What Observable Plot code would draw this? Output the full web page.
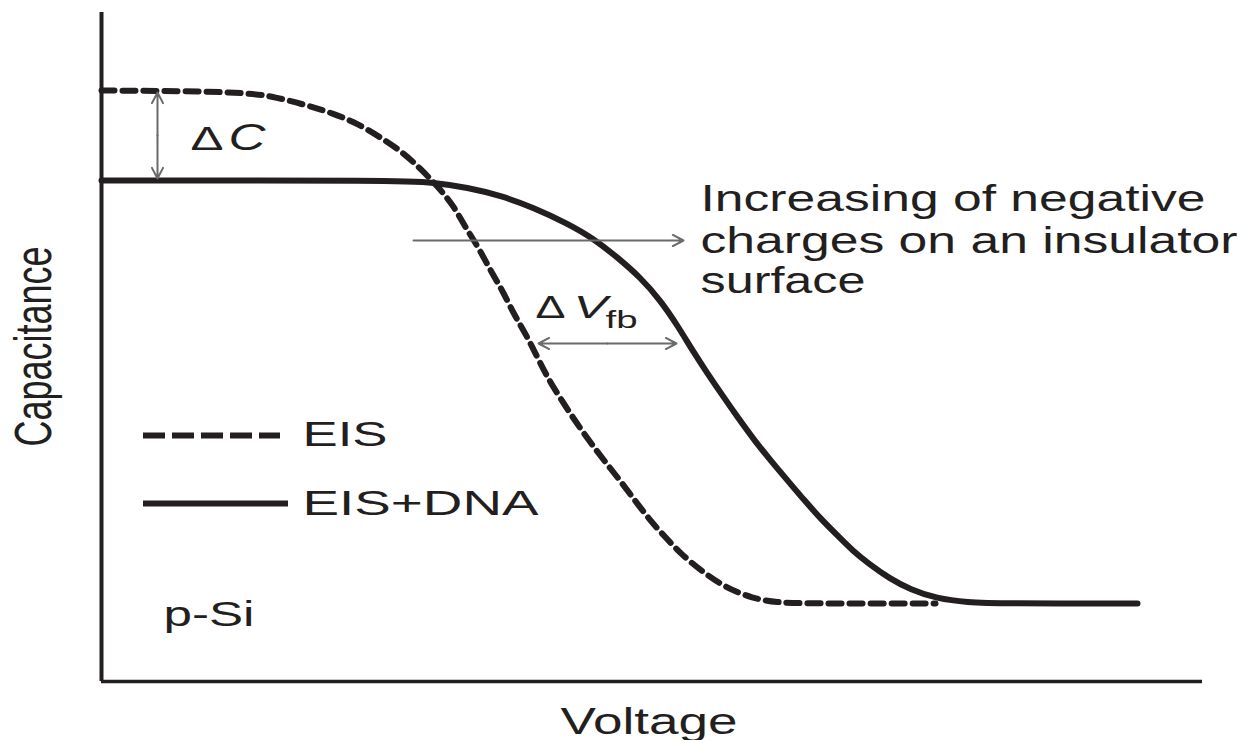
<!DOCTYPE html>
<html>
<head>
<meta charset="utf-8">
<script src="https://cdn.jsdelivr.net/npm/d3@7"></script>
<script src="https://cdn.jsdelivr.net/npm/@observablehq/plot@0.6"></script>
<style>
  html, body { margin: 0; padding: 0; background: #ffffff; }
  #chart { width: 1248px; height: 740px; overflow: hidden; }
</style>
</head>
<body>
<div id="chart"></div>
<script>
// ---- Data (arbitrary units: voltage 0–11, capacitance 0–6.7) ----
const eisVoltage = [0, 1.42, 1.76, 2.06, 2.32, 2.56, 2.79, 2.99, 3.19, 3.37, 3.52, 3.64, 3.77, 3.89, 4.01, 4.12, 4.24, 4.36, 4.46, 4.59, 4.72, 4.86, 5.01, 5.17, 5.32, 5.47, 5.64, 5.81, 6.02, 6.24, 6.51, 6.76, 7.01, 8.34];
const eisCapacitance = [5.91, 5.90, 5.84, 5.76, 5.68, 5.58, 5.44, 5.31, 5.13, 4.94, 4.76, 4.54, 4.34, 4.11, 3.91, 3.68, 3.48, 3.24, 3.04, 2.83, 2.63, 2.43, 2.23, 2.03, 1.83, 1.63, 1.44, 1.26, 1.09, 0.94, 0.83, 0.79, 0.78, 0.78];

const dnaVoltage = [0, 2.99, 3.32, 3.66, 3.99, 4.32, 4.66, 4.92, 5.16, 5.39, 5.59, 5.76, 5.91, 6.06, 6.21, 6.37, 6.53, 6.70, 6.87, 7.03, 7.19, 7.36, 7.51, 7.67, 7.88, 8.09, 8.35, 8.66, 8.99, 10.36];
const dnaCapacitance = [5.01, 5.01, 4.99, 4.94, 4.86, 4.74, 4.58, 4.43, 4.24, 4.04, 3.81, 3.56, 3.31, 3.08, 2.86, 2.63, 2.41, 2.20, 2.00, 1.81, 1.63, 1.46, 1.31, 1.18, 1.03, 0.92, 0.83, 0.79, 0.78, 0.78];

const seriesLabels = ["EIS", "EIS+DNA"];
const xLabel = "Voltage";
const yLabel = "Capacitance";
const noteLines = ["Increasing of negative", "charges on an insulator", "surface"];
const substrateLabel = "p-Si";
const deltaSymbol = "Δ";
const deltaCVar = "C";
const deltaVVar = "V";
const deltaVSub = "fb";

// ---- Build tables for the library ----
const eis = eisVoltage.map((v, i) => ({v, c: eisCapacitance[i]}));
const dna = dnaVoltage.map((v, i) => ({v, c: dnaCapacitance[i]}));

// ---- Layout of annotations (data units) ----
const ink = "#231f20";
const arrowInk = "#6a6a6a";
const xDomain = [0, 11.01];
const yDomain = [0, 6.69];

const labels = [
  {t: deltaSymbol, x: 0.89, y: 5.32, size: 34, w: 33},
  {t: deltaCVar, x: 1.27, y: 5.32, size: 36, w: 37, italic: true},
  {t: deltaSymbol, x: 4.34, y: 3.64, size: 31, w: 30},
  {t: deltaVVar, x: 4.72, y: 3.64, size: 31, w: 34, italic: true},
  {t: deltaVSub, x: 5.04, y: 3.54, size: 23, w: 32},
  {t: noteLines[0], x: 5.99, y: 4.71, size: 37, w: 505},
  {t: noteLines[1], x: 5.99, y: 4.29, size: 37, w: 537},
  {t: noteLines[2], x: 5.99, y: 3.89, size: 37, w: 165},
  {t: seriesLabels[0], x: 2.01, y: 2.36, size: 35, w: 85},
  {t: seriesLabels[1], x: 2.01, y: 1.67, size: 35, w: 236},
  {t: substrateLabel, x: 0.62, y: 0.56, size: 35, w: 91},
  {t: xLabel, x: 4.59, y: -0.52, size: 36, w: 177}
];

const arrows = [
  // ΔC (double headed, drawn from the middle outward)
  {x1: 0.56, y1: 5.46, x2: 0.56, y2: 5.89},
  {x1: 0.56, y1: 5.46, x2: 0.56, y2: 5.03},
  // shift arrow
  {x1: 3.12, y1: 4.41, x2: 5.82, y2: 4.41},
  // ΔVfb (double headed)
  {x1: 5.06, y1: 3.38, x2: 4.37, y2: 3.38},
  {x1: 5.06, y1: 3.38, x2: 5.75, y2: 3.38}
];

const legendRows = [
  {x1: 0.42, x2: 1.79, y: 2.46, dash: "22,7"},
  {x1: 0.42, x2: 1.87, y: 1.78, dash: null}
];

const marks = [
  Plot.ruleX([0], {y1: yDomain[0], y2: yDomain[1], stroke: ink, strokeWidth: 4}),
  Plot.ruleY([0], {x1: xDomain[0], x2: xDomain[1], stroke: ink, strokeWidth: 3.5}),
  Plot.line(eis, {x: "v", y: "c", curve: "basis", stroke: ink, strokeWidth: 6, strokeDasharray: "13,8"}),
  Plot.line(dna, {x: "v", y: "c", curve: "basis", stroke: ink, strokeWidth: 6}),
  Plot.arrow(arrows, {x1: "x1", y1: "y1", x2: "x2", y2: "y2", stroke: arrowInk, strokeWidth: 2, headLength: 9, headAngle: 55}),
  ...legendRows.map(r => Plot.ruleY([r.y], {x1: r.x1, x2: r.x2, stroke: ink, strokeWidth: 6, strokeDasharray: r.dash})),
  ...labels.map((d, i) => Plot.text([d], {
    x: "x", y: "y", text: "t", fontSize: d.size,
    fontStyle: d.italic ? "italic" : "normal",
    textAnchor: "start", lineAnchor: "bottom", fill: ink,
    ariaDescription: "label-" + i
  })),
  Plot.text([{t: yLabel, x: -0.51, y: 3.35}], {
    x: "x", y: "y", text: "t", fontSize: 36, rotate: -90,
    textAnchor: "middle", lineAnchor: "bottom", fill: ink, ariaDescription: "y-label"
  })
];

const chart = Plot.plot({
  width: 1248,
  height: 740,
  marginLeft: 101,
  marginRight: 46,
  marginTop: 12,
  marginBottom: 59,
  x: {domain: xDomain, axis: null},
  y: {domain: yDomain, axis: null},
  style: {fontFamily: "'Liberation Sans', Arial, sans-serif", background: "#ffffff", color: ink},
  marks
});

// stretch glyphs horizontally to match the wide lettering of the original
labels.forEach((d, i) => {
  chart.querySelectorAll(`g[aria-description="label-${i}"] text`).forEach(t => {
    t.setAttribute("textLength", d.w);
    t.setAttribute("lengthAdjust", "spacingAndGlyphs");
  });
});
chart.querySelectorAll(`g[aria-description="y-label"] text`).forEach(t => {
  t.setAttribute("transform", t.getAttribute("transform") + " scale(1,1.45)");
});

document.getElementById("chart").appendChild(chart);
</script>
</body>
</html>
